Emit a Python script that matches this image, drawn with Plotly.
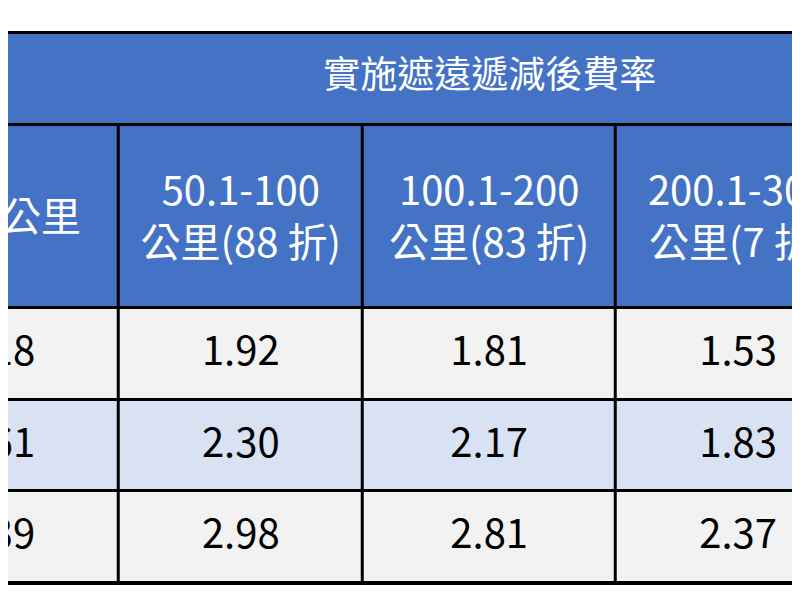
import plotly.graph_objects as go

# table content
title = "實施遮遠遞減後費率"
col_headers = ["0-50 公里", "50.1-100<br>公里(88 折)", "100.1-200<br>公里(83 折)", "200.1-300<br>公里(7 折)"]
rates_0_50 = [2.18, 2.61, 3.39]
rates_50_100 = [1.92, 2.30, 2.98]
rates_100_200 = [1.81, 2.17, 2.81]
rates_200_300 = [1.53, 1.83, 2.37]

# pixel-like grid (the table is cropped on left and right)
x_edges = [-137, 113, 362, 620, 870]
y_title = [25, 117]
y_edges = [117, 300, 392, 483, 575]

BLUE, GRAY, LBLUE = "#4472C4", "#F2F2F2", "#D9E2F3"
colorscale = [[0, BLUE], [0.5, GRAY], [1, LBLUE]]
z = [[0] * 4, [1] * 4, [2] * 4, [1] * 4]

fig = go.Figure()
# black background -> borders
fig.add_trace(go.Heatmap(x=[-200, 900], y=[23, 577], z=[[0]], colorscale=[[0, "black"], [1, "black"]],
                         showscale=False, hoverinfo="skip"))
fig.add_trace(go.Heatmap(x=[x_edges[0], x_edges[-1]], y=y_title, z=[[0]], colorscale=colorscale, zmin=0, zmax=2,
                         xgap=3, ygap=3, showscale=False, hoverinfo="skip"))
fig.add_trace(go.Heatmap(x=x_edges, y=y_edges, z=z, colorscale=colorscale, zmin=0, zmax=2,
                         xgap=3, ygap=3, showscale=False, hoverinfo="skip"))

font = "Noto Sans CJK TC"
xc = [(x_edges[i] + x_edges[i + 1]) / 2 for i in range(4)]
fig.add_trace(go.Scatter(x=[(x_edges[1] + x_edges[-1]) / 2], y=[sum(y_title) / 2], text=[title], mode="text",
                         textfont=dict(family=font, size=37, color="white"), hoverinfo="skip"))
fig.add_trace(go.Scatter(x=xc, y=[(y_edges[0] + y_edges[1]) / 2 + 4] * 4, text=col_headers, mode="text",
                         textfont=dict(family=font, size=40, color="white"), hoverinfo="skip"))
cols = [rates_0_50, rates_50_100, rates_100_200, rates_200_300]
for j in range(3):
    yc = (y_edges[j + 1] + y_edges[j + 2]) / 2 + 1
    fig.add_trace(go.Scatter(x=xc, y=[yc] * 4, text=[f"{c[j]:.2f}" for c in cols], mode="text",
                             textfont=dict(family=font, size=40, color="black"), hoverinfo="skip"))

fig.update_xaxes(range=[0, 800], visible=False)
fig.update_yaxes(range=[600, 0], visible=False)
fig.update_layout(autosize=True, margin=dict(l=0, r=0, t=0, b=0), showlegend=False,
                  paper_bgcolor="white", plot_bgcolor="white")
fig.write_html("out.html", default_width="100%", default_height="100vh")
